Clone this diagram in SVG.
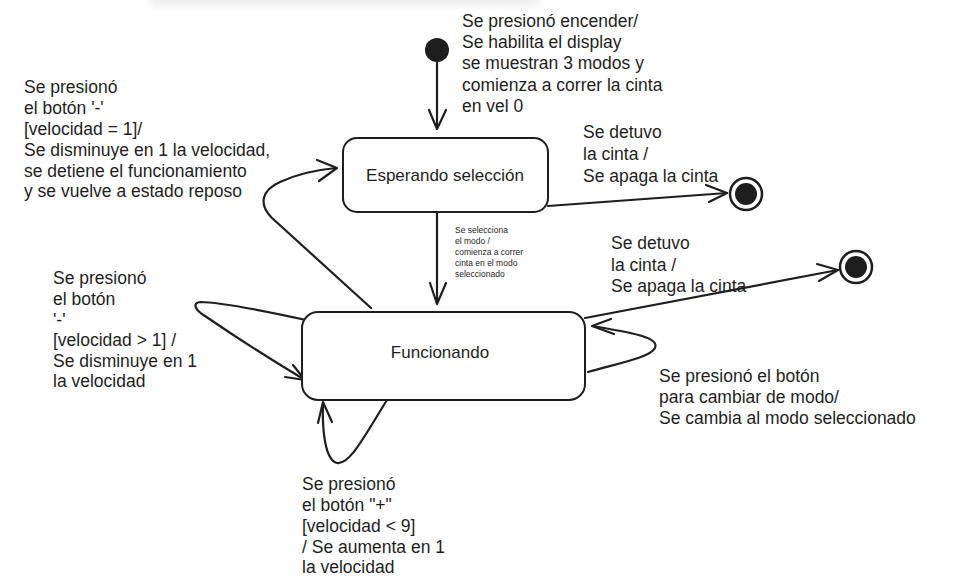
<svg xmlns="http://www.w3.org/2000/svg" width="961" height="584" viewBox="0 0 961 584">
  <defs>
    <filter id="blur" x="-10%" y="-100%" width="120%" height="300%">
      <feGaussianBlur stdDeviation="4"/>
    </filter>
    <style>
      .lbl { font-family: "Liberation Sans", Arial, sans-serif; font-size: 17.5px; fill: #1e1e1e; }
      .small { font-family: "Liberation Sans", Arial, sans-serif; font-size: 8.5px; fill: #1e1e1e; }
      .name { font-family: "Liberation Sans", Arial, sans-serif; font-size: 17px; fill: #1e1e1e; text-anchor: middle; }
      .box { fill: #ffffff; stroke: #1e1e1e; stroke-width: 2; }
      .edge { fill: none; stroke: #1e1e1e; stroke-width: 2.2; stroke-linecap: round; stroke-linejoin: round; }
      .ring { fill: #ffffff; stroke: #1e1e1e; stroke-width: 2.5; }
      .dot { fill: #1e1e1e; }
    </style>
  </defs>
  <rect width="961" height="584" fill="#ffffff"/>
  <rect x="150" y="-20" width="390" height="26" fill="#000000" opacity="0.07" filter="url(#blur)"/>

  <g id="connectors">
    <!-- initial -> Esperando -->
    <path class="edge" d="M437,62 L437,128"/>
    <path class="edge" d="M429,110 L437,129 L446,110"/>
    <!-- Esperando -> final 1 -->
    <path class="edge" d="M548,206 L727,193"/>
    <path class="edge" d="M706,185 L727,193 L709,202"/>
    <!-- Esperando -> Funcionando -->
    <path class="edge" d="M437,213 L437,303"/>
    <path class="edge" d="M430,283 L437,304 L446,283"/>
    <!-- Funcionando -> Esperando (big loop) -->
    <path class="edge" d="M371,308 L272,218 C258,204 262,190 280,182 C295,175 315,170 336,168"/>
    <path class="edge" d="M317,160 L337,168 L319,181"/>
    <!-- Funcionando -> final 2 -->
    <path class="edge" d="M585,318 L838,270"/>
    <path class="edge" d="M817,264 L838,270 L819,281"/>
    <!-- left self loop -->
    <path class="edge" d="M306,320 C260,310 215,302 200,302 C192,303 195,310 205,316 C240,340 280,365 305,380"/>
    <path class="edge" d="M285,377 L305,380 L293,365"/>
    <!-- bottom self loop -->
    <path class="edge" d="M387,400 C365,435 350,465 337,463 C325,460 322,430 323,403"/>
    <path class="edge" d="M318,423 L323,402 L332,422"/>
    <!-- right self loop -->
    <path class="edge" d="M588,372 C615,364 650,358 655,348 C660,336 625,332 593,326"/>
    <path class="edge" d="M611,319 L592,326 L614,334"/>
  </g>

  <g id="initial">
    <circle class="dot" cx="437" cy="50" r="12"/>
  </g>

  <g id="esperando">
    <rect class="box" x="343" y="138" width="205" height="74" rx="14"/>
    <text class="name" x="445" y="181">Esperando selección</text>
  </g>

  <g id="funcionando">
    <rect class="box" x="302" y="312" width="283" height="88" rx="16"/>
    <text class="name" x="440" y="358">Funcionando</text>
  </g>

  <g id="final1">
    <circle class="ring" cx="746" cy="194" r="16"/>
    <circle class="dot" cx="746" cy="194" r="11"/>
  </g>

  <g id="final2">
    <circle class="ring" cx="856" cy="267" r="16"/>
    <circle class="dot" cx="856" cy="267" r="11"/>
  </g>

  <g id="labels">
    <text class="lbl" x="462" y="27">Se presionó encender/</text>
    <text class="lbl" x="462" y="48">Se habilita el display</text>
    <text class="lbl" x="462" y="69">se muestran 3 modos y</text>
    <text class="lbl" x="462" y="91">comienza a correr la cinta</text>
    <text class="lbl" x="462" y="112">en vel 0</text>

    <text class="lbl" x="24" y="93">Se presionó</text>
    <text class="lbl" x="24" y="114">el botón '-'</text>
    <text class="lbl" x="24" y="135">[velocidad = 1]/</text>
    <text class="lbl" x="24" y="156">Se disminuye en 1 la velocidad,</text>
    <text class="lbl" x="24" y="177">se detiene el funcionamiento</text>
    <text class="lbl" x="24" y="197">y se vuelve a estado reposo</text>

    <text class="lbl" x="583" y="138">Se detuvo</text>
    <text class="lbl" x="583" y="160">la cinta /</text>
    <text class="lbl" x="583" y="182">Se apaga la cinta</text>

    <text class="small" x="455" y="233">Se selecciona</text>
    <text class="small" x="455" y="244">el modo /</text>
    <text class="small" x="455" y="255">comienza a correr</text>
    <text class="small" x="455" y="266">cinta en el modo</text>
    <text class="small" x="455" y="277">seleccionado</text>

    <text class="lbl" x="611" y="249">Se detuvo</text>
    <text class="lbl" x="611" y="271">la cinta /</text>
    <text class="lbl" x="611" y="292">Se apaga la cinta</text>

    <text class="lbl" x="53" y="284">Se presionó</text>
    <text class="lbl" x="53" y="305">el botón</text>
    <text class="lbl" x="53" y="326">'-'</text>
    <text class="lbl" x="53" y="346">[velocidad &gt; 1] /</text>
    <text class="lbl" x="53" y="367">Se disminuye en 1</text>
    <text class="lbl" x="53" y="387">la velocidad</text>

    <text class="lbl" x="659" y="382">Se presionó el botón</text>
    <text class="lbl" x="659" y="403">para cambiar de modo/</text>
    <text class="lbl" x="659" y="424">Se cambia al modo seleccionado</text>

    <text class="lbl" x="302" y="490">Se presionó</text>
    <text class="lbl" x="302" y="511">el botón "+"</text>
    <text class="lbl" x="302" y="532">[velocidad &lt; 9]</text>
    <text class="lbl" x="302" y="553">/ Se aumenta en 1</text>
    <text class="lbl" x="302" y="573">la velocidad</text>
  </g>
</svg>
